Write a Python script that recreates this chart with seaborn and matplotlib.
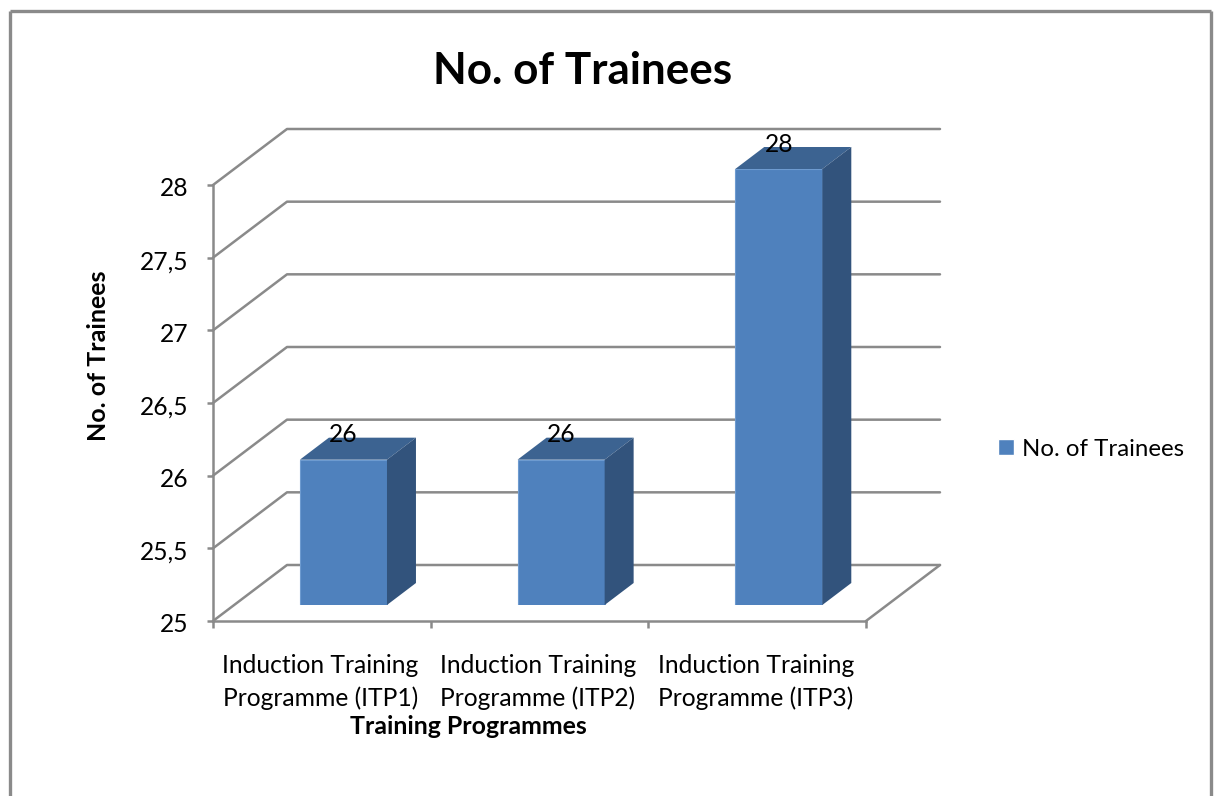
import matplotlib
matplotlib.use("Agg")
import matplotlib.pyplot as plt
import pandas as pd
import seaborn as sns
from matplotlib.lines import Line2D
from matplotlib.patches import Polygon
from matplotlib.transforms import Affine2D, IdentityTransform

# ---- data ----
categories = ["Induction Training\nProgramme (ITP1)",
              "Induction Training\nProgramme (ITP2)",
              "Induction Training\nProgramme (ITP3)"]
values = [26, 26, 28]
series_name = "No. of Trainees"
y_ticks = [25, 25.5, 26, 26.5, 27, 27.5, 28]
y_tick_labels = ["25", "25,5", "26", "26,5", "27", "27,5", "28"]
title = "No. of Trainees"
x_title = "Training Programmes"
y_title = "No. of Trainees"

sns.set_theme(style="white")
plt.rcParams["font.family"] = ["Lato", "DejaVu Sans"]

W, H = 1216, 796
DPI = 100
GREY = "#8A8A8A"
FRONT, TOP, SIDE = "#4F81BD", "#3C6391", "#32537C"
TICK_FS = 17.7


def rect_px(x0, y_top, x1, y_bot):
    return [x0 / W, 1 - y_bot / H, (x1 - x0) / W, (y_bot - y_top) / H]


fig = plt.figure(figsize=(W / DPI, H / DPI), dpi=DPI, facecolor="white")

# outer chart border (open at the bottom of the picture)
for xs, ys in [((9.5, 9.5), (10.5, 796)), ((9.5, 1211), (10.5, 10.5)), ((1211, 1211), (10.5, 796))]:
    fig.add_artist(Line2D([x / W for x in xs], [1 - y / H for y in ys], color=GREY, lw=2.4,
                          solid_capstyle="butt"))

# front plane of the fake 3D box: holds axes, ticks and tick labels
ax = fig.add_axes(rect_px(213, 185, 866, 621))
ax.set_xlim(-0.5, 2.5)
ax.set_ylim(25, 28)
ax.patch.set_visible(False)
for s in ("top", "right"):
    ax.spines[s].set_visible(False)
for s in ("left", "bottom"):
    ax.spines[s].set_color(GREY)
    ax.spines[s].set_linewidth(1.8)
ax.set_yticks(y_ticks)
ax.set_yticklabels(y_tick_labels, fontsize=TICK_FS, color="black")
ax.set_xticks([-0.5, 0.5, 1.5, 2.5])
ax.set_xticklabels([])
ax.set_xticks([0, 1, 2], minor=True)
ax.set_xticklabels(categories, minor=True, fontsize=TICK_FS, color="black", linespacing=1.45)
ax.tick_params(axis="y", which="major", left=True, length=4.5, width=1.8, color=GREY, pad=14)
ax.tick_params(axis="x", which="major", bottom=True, length=5, width=1.8, color=GREY)
ax.tick_params(axis="x", which="minor", bottom=False, length=0, pad=24)
for lab in ax.get_yticklabels():
    lab.set_transform(lab.get_transform() + Affine2D().translate(1, -2))
for lab in ax.get_xticklabels(minor=True):
    lab.set_transform(lab.get_transform() + Affine2D().translate(-1.5, 0))

# walls and floor, derived from the y scale with a constant depth offset
fig.canvas.draw()
DEPTH = (74, 56)
to_disp = ax.transData.transform
for y in y_ticks:
    x0, yd = to_disp((-0.5, y))
    x1, _ = to_disp((2.5, y))
    bx, by = x0 + DEPTH[0], yd + DEPTH[1]
    ax.add_line(Line2D([x0, bx, x1 + DEPTH[0]], [yd, by, by], transform=IdentityTransform(),
                       color=GREY, lw=1.8, clip_on=False, zorder=1))
x1, yd = to_disp((2.5, 25))
ax.add_line(Line2D([x1, x1 + DEPTH[0]], [yd, yd + DEPTH[1]], transform=IdentityTransform(),
                   color=GREY, lw=1.8, clip_on=False, zorder=1))

# bars live in a plane shifted into the depth of the box
bar_ax = fig.add_axes(rect_px(234.6, 169, 887.6, 605))
df = pd.DataFrame({"programme": categories, "trainees": values, "series": series_name})
sns.barplot(data=df, x="programme", y="trainees", hue="series", palette=[FRONT], width=0.4,
            saturation=1, ax=bar_ax, legend=True)
bar_ax.set_xlim(-0.5, 2.5)
bar_ax.set_ylim(25, 28)
bar_ax.patch.set_visible(False)
bar_ax.set_axis_off()
fig.canvas.draw()

BAR_DEPTH = (29, 22)
for patch, value in zip(list(bar_ax.patches), values):
    left = patch.get_x()
    right = left + patch.get_width()
    patch.set_edgecolor("#6E9BD0")
    patch.set_linewidth(0.8)
    (xl, yt) = bar_ax.transData.transform((left, value))
    (xr, yb) = bar_ax.transData.transform((right, 25))
    dx, dy = BAR_DEPTH
    bar_ax.add_patch(Polygon([(xl, yt), (xr, yt), (xr + dx, yt + dy), (xl + dx, yt + dy)],
                             closed=True, transform=IdentityTransform(), facecolor=TOP,
                             edgecolor="none", clip_on=False))
    bar_ax.add_patch(Polygon([(xr, yt), (xr + dx, yt + dy), (xr + dx, yb + dy), (xr, yb)],
                             closed=True, transform=IdentityTransform(), facecolor=SIDE,
                             edgecolor="none", clip_on=False))
    bar_ax.annotate(str(value), xy=((left + right) / 2, value), xytext=(0, 25),
                    textcoords="offset pixels", ha="center", va="center",
                    fontsize=TICK_FS, color="black", annotation_clip=False, zorder=5)

# legend
sns.move_legend(bar_ax, loc="center left", bbox_to_anchor=(998 / W, 1 - 449 / H),
                bbox_transform=fig.transFigure, frameon=False, title=None, fontsize=17.3,
                labelcolor="black", handlelength=0.66, handleheight=0.66, handletextpad=0.32,
                borderpad=0, borderaxespad=0)

# titles
fig.text(583 / W, 1 - 71 / H, title, ha="center", va="center", fontsize=31.7, fontweight="bold", color="black")
fig.text(468 / W, 1 - 727 / H, x_title, ha="center", va="center", fontsize=17.9, fontweight="bold", color="black")
fig.text(99 / W, 1 - 356 / H, y_title, ha="center", va="center", rotation=90, fontsize=18,
         fontweight="bold", color="black")

fig.savefig("out.png", dpi=DPI, facecolor="white")
